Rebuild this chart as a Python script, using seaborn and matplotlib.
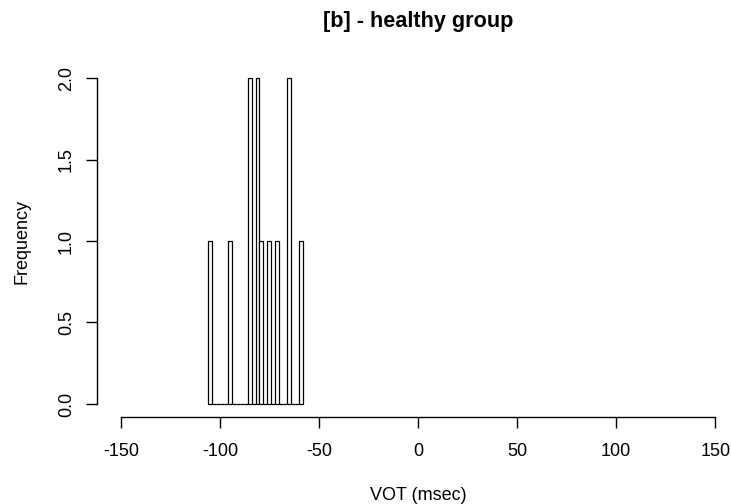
import numpy as np
import pandas as pd
import matplotlib
matplotlib.use("Agg")
import matplotlib.pyplot as plt
import seaborn as sns

# VOT measurements (msec) for the healthy group, [b] tokens
vot_msec = [-105, -95, -85, -85, -81, -81, -79, -75, -71, -65, -65, -59]
bin_start, bin_stop, bin_width = -106, -58, 2
x_ticks = [-150, -100, -50, 0, 50, 100, 150]
y_ticks = [0.0, 0.5, 1.0, 1.5, 2.0]

sns.set_theme(style="white")
plt.rcParams["font.family"] = ["Liberation Sans", "DejaVu Sans"]
plt.rcParams["text.color"] = "black"
plt.rcParams["axes.labelcolor"] = "black"

df = pd.DataFrame({"VOT": vot_msec})

fig = plt.figure(figsize=(7.31, 5.04), dpi=100)
ax = fig.add_axes([97 / 731, (504 - 417) / 504, (739 - 97) / 731, (417 - 65) / 504])

sns.histplot(
    data=df, x="VOT",
    bins=np.arange(bin_start, bin_stop + bin_width / 2, bin_width),
    color="white", edgecolor="black", linewidth=0.9, alpha=1, ax=ax,
)

ax.set_xlim(-162, 162)
ax.set_ylim(-0.08, 2.08)
ax.set_xticks(x_ticks)
ax.set_xticklabels([str(v) for v in x_ticks])
ax.set_yticks(y_ticks)
ax.set_yticklabels([f"{v:.1f}" for v in y_ticks], rotation=90, va="center")

for side in ("top", "right"):
    ax.spines[side].set_visible(False)
for side in ("left", "bottom"):
    ax.spines[side].set_color("black")
    ax.spines[side].set_linewidth(1.0)
ax.spines["bottom"].set_bounds(-150, 150)
ax.spines["left"].set_bounds(0, 2)

ax.tick_params(axis="both", which="major", direction="out", length=8, width=1.0,
               color="black", labelsize=13, labelcolor="black",
               bottom=True, left=True)
ax.tick_params(axis="x", pad=11)
ax.tick_params(axis="y", pad=8)

ax.set_xlabel("VOT (msec)", fontsize=13, labelpad=19)
ax.set_ylabel("Frequency", fontsize=13, labelpad=20)
fig.text(418 / 731, 1 - 21 / 504, "[b] - healthy group", ha="center", va="center",
         fontsize=15.6, fontweight="bold", color="black")

fig.savefig("out.png", dpi=100)
